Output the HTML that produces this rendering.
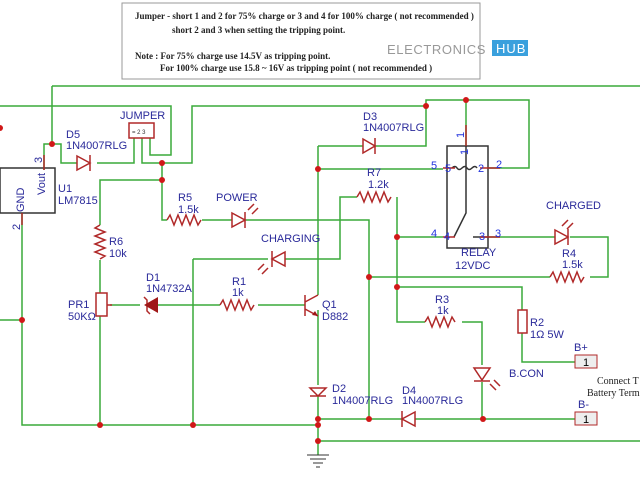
<!DOCTYPE html>
<html><head><meta charset="utf-8"><style>
body{margin:0;background:#fff}
svg{display:block}
.w{stroke:#3aaa3a;stroke-width:1.5;fill:none}
.c{stroke:#b02828;stroke-width:1.5;fill:none}
.k{stroke:#333;stroke-width:1.5;fill:none}
.t{font-family:"Liberation Sans",sans-serif;font-size:11px;fill:#2a2a9a}
.n{font-family:"Liberation Serif",serif;font-size:9px;font-weight:bold;fill:#222}
.d{fill:#d01818}
</style></head><body>
<svg width="640" height="480" viewBox="0 0 640 480">
<rect x="122" y="3" width="358" height="76" fill="#fff" stroke="#999"/>
<text class="n" x="135" y="19">Jumper - short 1 and 2 for 75% charge or 3 and 4 for 100% charge ( not recommended )</text>
<text class="n" x="172" y="33">short 2 and 3 when setting the tripping point.</text>
<text class="n" x="135" y="59">Note : For 75% charge use 14.5V as tripping point.</text>
<text class="n" x="160" y="71">For 100% charge use 15.8 ~ 16V as tripping point ( not recommended )</text>
<text x="387" y="54" font-family="Liberation Sans,sans-serif" font-size="13" fill="#999" letter-spacing="0.6">ELECTRONICS</text>
<rect x="492" y="40" width="36" height="16" fill="#3aa0dd"/>
<text x="496" y="53" font-family="Liberation Sans,sans-serif" font-size="13" fill="#fff" letter-spacing="1">HUB</text>

<g class="w">
<path d="M52 86H640"/>
<path d="M52 86V144H44V170"/>
<path d="M52 144H61V163H77"/>
<path d="M97 163H134V138"/>
<path d="M0 106H171V155H150V138"/>
<path d="M142 138V163H192V106H426V100H529V168H488"/>
<path d="M466 100V146"/>
<path d="M162 163V180H100V225"/>
<path d="M162 180V220H167"/>
<path d="M202 220H232M245 220H369V277"/>
<path d="M318 146H363M375 146H426V106"/>
<path d="M318 146V295"/>
<path d="M318 169H443"/>
<path d="M193 259H268M285 259H340V197H357"/>
<path d="M397 197V322H425"/>
<path d="M397 237H443"/>
<path d="M488 237H555M570 237H608V277H590"/>
<path d="M550 277H369V419"/>
<path d="M397 287H522V310M522 333V362H575"/>
<path d="M462 322H482V365M482 382V419"/>
<path d="M193 259V425"/>
<path d="M22 213V425H318"/>
<path d="M0 320H22"/>
<path d="M100 260V293M100 316V425"/>
<path d="M110 305H140M158 305H220M258 305H305"/>
<path d="M318 310V385M318 395V455"/>
<path d="M318 419H402M415 419H575"/>
<path d="M318 441H640"/>
</g>
<rect x="0" y="168" width="55" height="45" class="k"/>
<rect x="129" y="123" width="25" height="15" fill="#fff" class="c"/>
<text x="132" y="134" font-size="6" font-family="Liberation Sans" fill="#333">= 2 3</text>
<g class="c">
<path d="M77 156L90 163L77 170Z M90 155V171"/>
<path d="M363 139L375 146L363 153Z M375 138V154"/>
<path d="M167 220l3-5 4 10 4-10 4 10 4-10 4 10 4-10 4 10 3-5"/>
<path d="M357 197l3-5 4 10 4-10 4 10 4-10 4 10 4-10 4 10 3-5"/>
<path d="M220 305l3-5 4 10 4-10 4 10 4-10 4 10 4-10 4 10 3-5"/>
<path d="M425 322l3-5 4 10 4-10 4 10 4-10 4 10 4-10 3 5"/>
<path d="M550 277l3-5 4 10 4-10 4 10 4-10 4 10 4-10 4 10 3-5"/>
<path d="M100 225l-5 3 10 4-10 4 10 4-10 4 10 4-10 4 10 4-5 3"/>
<path d="M232 213L245 220L232 227Z M245 212V228 M248 210l6-6 M252 214l6-6"/>
<path d="M285 252L272 259L285 266Z M272 251V267 M268 268l-6 6 M264 264l-6 6"/>
<path d="M555 230L568 237L555 244Z M568 229V245 M562 226l6-6 M567 229l6-6"/>
<path d="M474 368H490L482 380Z M474 381H490 M490 384l6 6 M494 380l6 6"/>
<path d="M310 388H326L318 396Z M310 396H326"/>
<path d="M415 412L402 419L415 426Z M402 411V427"/>
<rect x="96" y="293" width="11" height="23"/>
<path d="M107 305h5"/>
<path d="M144 297l3 3V311l3 3"/>
<rect x="518" y="310" width="9" height="23"/>
<path d="M305 295V316 M305 302L318 295 M305 309L318 316"/>
<path d="M44 155v15 M22 213v12"/>
</g>
<path d="M158 297L144 305L158 313Z" fill="#a01818"/>
<path d="M318 316l-6-1 3-4Z" fill="#a01818"/>
<path d="M447 146V248H488V146Z" class="k"/>
<path d="M466 146V213L454 237 M473 237H488 M452 168q3-3 5 0t5 0 5 0 5 0 5 0" class="k"/>
<g class="c"><path d="M443 168H455M480 168H500 M443 237H455 M480 237H500 M466 125V146"/></g>
<rect x="575" y="355" width="22" height="13" fill="#eee" stroke="#b02828"/>
<rect x="575" y="412" width="22" height="13" fill="#eee" stroke="#b02828"/>
<text x="583" y="366" font-family="Liberation Sans" font-size="11">1</text>
<text x="583" y="423" font-family="Liberation Sans" font-size="11">1</text>
<path d="M307 455h22M310 459h16M313 463h10M316 467h4" stroke="#333" stroke-width="1"/>
<g class="d">
<circle cx="52" cy="144" r="3"/><circle cx="162" cy="163" r="3"/><circle cx="162" cy="180" r="3"/>
<circle cx="426" cy="106" r="3"/><circle cx="466" cy="100" r="3"/><circle cx="318" cy="169" r="3"/>
<circle cx="397" cy="237" r="3"/><circle cx="369" cy="277" r="3"/><circle cx="397" cy="287" r="3"/>
<circle cx="22" cy="320" r="3"/><circle cx="100" cy="425" r="3"/><circle cx="193" cy="425" r="3"/>
<circle cx="318" cy="419" r="3"/><circle cx="318" cy="425" r="3"/><circle cx="318" cy="441" r="3"/>
<circle cx="369" cy="419" r="3"/><circle cx="483" cy="419" r="3"/><circle cx="0" cy="128" r="3"/>
</g>
<g class="t">
<text x="66" y="138">D5</text><text x="66" y="149">1N4007RLG</text>
<text x="120" y="119">JUMPER</text>
<text x="58" y="192">U1</text><text x="58" y="204">LM7815</text>
<text x="45" y="195" transform="rotate(-90 45 195)">Vout</text>
<text x="24" y="212" transform="rotate(-90 24 212)">GND</text>
<text x="42" y="163" transform="rotate(-90 42 163)">3</text>
<text x="20" y="230" transform="rotate(-90 20 230)">2</text>
<text x="178" y="201">R5</text><text x="178" y="213">1.5k</text>
<text x="216" y="201">POWER</text>
<text x="261" y="242">CHARGING</text>
<text x="109" y="245">R6</text><text x="109" y="257">10k</text>
<text x="146" y="281">D1</text><text x="146" y="292">1N4732A</text>
<text x="232" y="285">R1</text><text x="232" y="296">1k</text>
<text x="68" y="308">PR1</text><text x="68" y="320">50KΩ</text>
<text x="322" y="308">Q1</text><text x="322" y="320">D882</text>
<text x="332" y="392">D2</text><text x="332" y="404">1N4007RLG</text>
<text x="402" y="394">D4</text><text x="402" y="404">1N4007RLG</text>
<text x="363" y="120">D3</text><text x="363" y="131">1N4007RLG</text>
<text x="367" y="176">R7</text><text x="368" y="188">1.2k</text>
<text x="546" y="209">CHARGED</text>
<text x="562" y="257">R4</text><text x="562" y="268">1.5k</text>
<text x="461" y="256">RELAY</text><text x="455" y="269">12VDC</text>
<text x="435" y="303">R3</text><text x="437" y="314">1k</text>
<text x="530" y="326">R2</text><text x="530" y="338">1Ω 5W</text>
<text x="574" y="351">B+</text><text x="578" y="408">B-</text>
<text x="509" y="377">B.CON</text>
</g>
<g font-family="Liberation Sans" font-size="11" fill="#2233dd">
<text x="431" y="169">5</text><text x="445" y="172">5</text><text x="478" y="172">2</text><text x="496" y="168">2</text>
<text x="431" y="237">4</text><text x="444" y="240">4</text><text x="479" y="240">3</text><text x="495" y="237">3</text>
<text x="464" y="138" transform="rotate(-90 464 138)">1</text><text x="468" y="155" transform="rotate(-90 468 155)">1</text>
</g>
<g font-family="Liberation Serif" font-size="10" fill="#222">
<text x="597" y="384">Connect T</text><text x="587" y="396">Battery Term</text>
</g>
</svg>
</body></html>
